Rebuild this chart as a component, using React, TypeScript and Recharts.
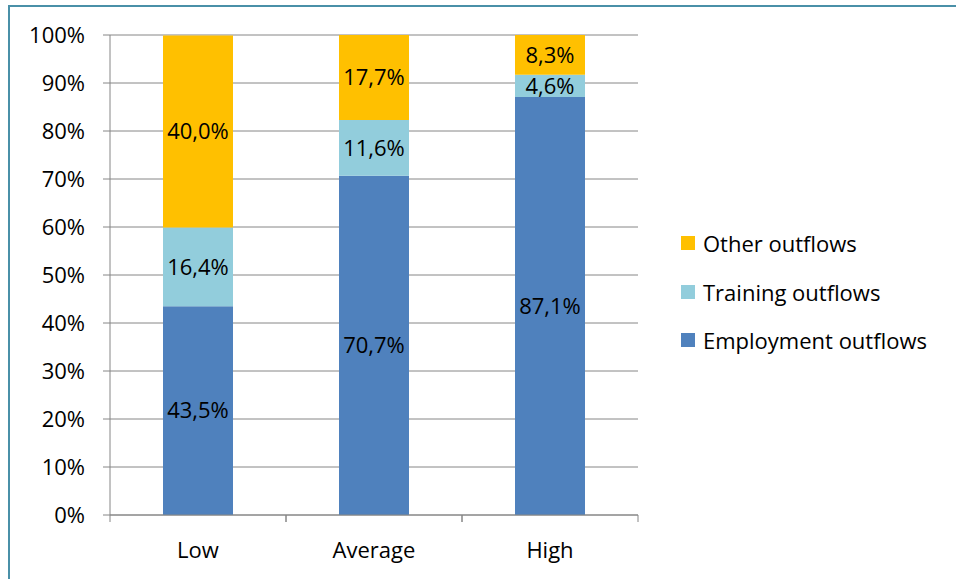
import React from "react";
import { BarChart, Bar, XAxis, YAxis, CartesianGrid, LabelList } from "recharts";

const categories = ["Low", "Average", "High"];
const employment = [43.5, 70.7, 87.1];
const training = [16.4, 11.6, 4.6];
const other = [40.0, 17.7, 8.3];
const yTicks = [0, 10, 20, 30, 40, 50, 60, 70, 80, 90, 100];

const seriesInfo = [
  { key: "other", name: "Other outflows", color: "#FFC000" },
  { key: "training", name: "Training outflows", color: "#92CDDC" },
  { key: "employment", name: "Employment outflows", color: "#4F81BD" },
];

const data = categories.map((c, i) => ({
  name: c,
  employment: employment[i],
  training: training[i],
  other: other[i],
}));

const FONT = "'Open Sans', sans-serif";
const FS = 22;
const PLOT_W = 528;
const half = PLOT_W / categories.length / 2;

const fmt = (v: any) => `${Number(v).toFixed(1).replace(".", ",")}%`;

function XTick(props: any) {
  const { x, y, payload } = props;
  return (
    <g>
      <line x1={x - half} y1={y - 8} x2={x - half} y2={y - 1} stroke="#868686" />
      <line x1={x + half} y1={y - 8} x2={x + half} y2={y - 1} stroke="#868686" />
      <text x={x} y={y + 35} textAnchor="middle" fill="#000" fontSize={FS} fontFamily={FONT}>
        {payload.value}
      </text>
    </g>
  );
}

export default function App() {
  return (
    <div style={{ position: "absolute", left: 0, top: 0, width: 956, height: 579, overflow: "hidden", background: "#fff" }}>
      <div
        style={{
          position: "absolute",
          left: 8,
          top: 5,
          width: 980,
          height: 600,
          border: "2px solid #4A90A8",
          boxSizing: "border-box",
        }}
      />
      <div style={{ position: "absolute", left: 0, top: 0 }}>
        <BarChart
          width={956}
          height={579}
          data={data}
          margin={{ top: 35, right: 318, bottom: 0, left: 0 }}
          barSize={70}
        >
          <CartesianGrid horizontal vertical={false} stroke="#868686" strokeWidth={1} />
          <XAxis
            dataKey="name"
            height={64}
            axisLine={{ stroke: "#868686" }}
            tickLine={false}
            tick={<XTick />}
            interval={0}
          />
          <YAxis
            width={110}
            domain={[0, 100]}
            ticks={yTicks}
            interval={0}
            tickFormatter={(v) => `${v}%`}
            axisLine={{ stroke: "#868686" }}
            tickLine={{ stroke: "#868686" }}
            tickSize={7}
            tickMargin={18}
            tick={{ fill: "#000", fontSize: FS, fontFamily: FONT }}
          />
          <Bar dataKey="employment" stackId="a" fill="#4F81BD" isAnimationActive={false}>
            <LabelList dataKey="employment" position="center" formatter={fmt} fill="#000" fontSize={FS} fontFamily={FONT} />
          </Bar>
          <Bar dataKey="training" stackId="a" fill="#92CDDC" isAnimationActive={false}>
            <LabelList dataKey="training" position="center" formatter={fmt} fill="#000" fontSize={FS} fontFamily={FONT} />
          </Bar>
          <Bar dataKey="other" stackId="a" fill="#FFC000" isAnimationActive={false}>
            <LabelList dataKey="other" position="center" formatter={fmt} fill="#000" fontSize={FS} fontFamily={FONT} />
          </Bar>
        </BarChart>
      </div>
      <div style={{ position: "absolute", left: 681, top: 219, fontFamily: FONT, fontSize: FS, color: "#000" }}>
        {seriesInfo.map((s) => (
          <div key={s.key} style={{ display: "flex", alignItems: "center", height: 48.5 }}>
            <span style={{ display: "inline-block", width: 14, height: 14, background: s.color, marginRight: 8 }} />
            <span>{s.name}</span>
          </div>
        ))}
      </div>
    </div>
  );
}
